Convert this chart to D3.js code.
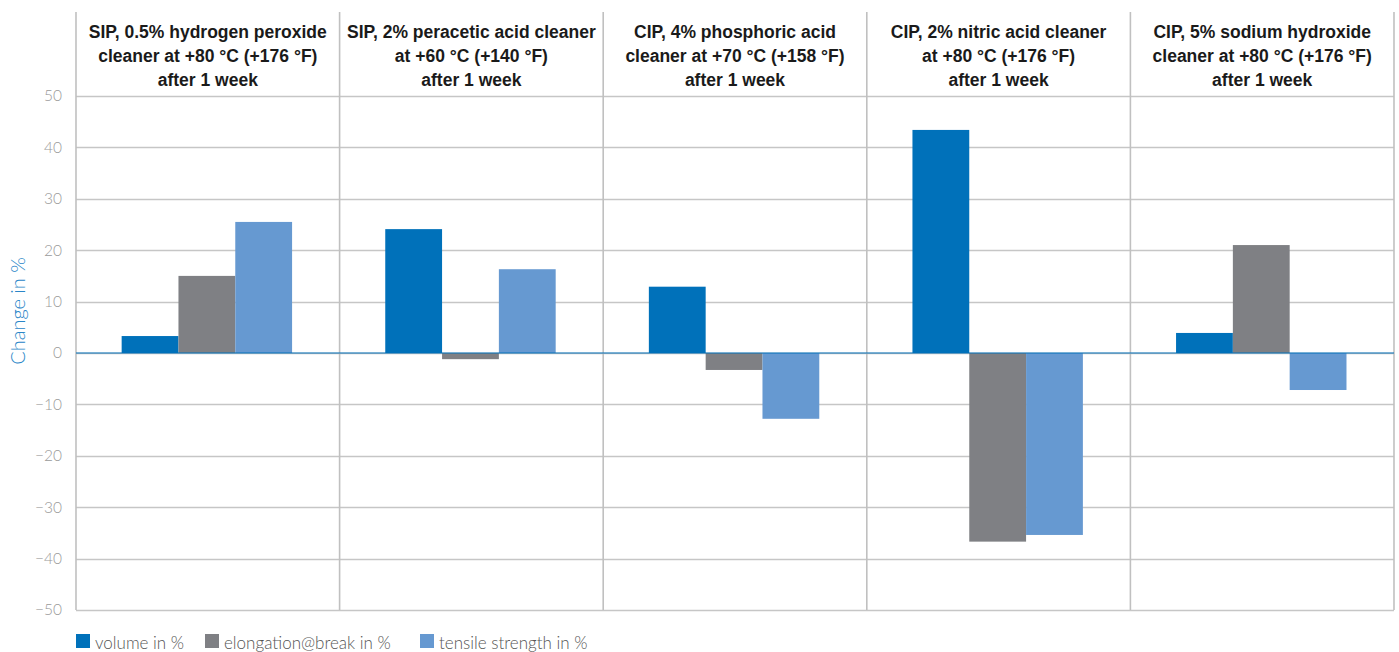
<!DOCTYPE html>
<html><head><meta charset="utf-8">
<script src="https://cdn.jsdelivr.net/npm/d3@7"></script>
<style>
body{margin:0;background:#fff;}
svg{display:block;}
</style></head>
<body>
<svg id="c" width="1399" height="652"></svg>
<script>
const categories = [
  ["SIP, 0.5% hydrogen peroxide","cleaner at +80 °C (+176 °F)","after 1 week"],
  ["SIP, 2% peracetic acid cleaner","at +60 °C (+140 °F)","after 1 week"],
  ["CIP, 4% phosphoric acid","cleaner at +70 °C (+158 °F)","after 1 week"],
  ["CIP, 2% nitric acid cleaner","at +80 °C (+176 °F)","after 1 week"],
  ["CIP, 5% sodium hydroxide","cleaner at +80 °C (+176 °F)","after 1 week"]
];
const seriesNames = ["volume in %","elongation@break in %","tensile strength in %"];
const volume = [3.3, 24.1, 12.9, 43.4, 3.9];
const elongation = [15.0, -1.2, -3.3, -36.7, 21.0];
const tensile = [25.5, 16.3, -12.8, -35.4, -7.2];
const yTicks = [50,40,30,20,10,0,-10,-20,-30,-40,-50];
const colors = ["#0071BA","#7F8084","#6699D1"];

(function(){
const seriesValues = [volume, elongation, tensile];
const svg = d3.select("#c");
const mL = 76, mR = 1394, mT = 96, mB = 610, headTop = 12;

const x = d3.scaleBand().domain(d3.range(categories.length)).range([mL, mR]);
const xi = d3.scaleBand().domain(d3.range(3)).range([0, x.bandwidth()])
  .paddingInner(0).paddingOuter(0.82).align(0.49);
const y = d3.scaleLinear().domain([-50, 50]).range([mB, mT]);

svg.append("g").selectAll("line").data(yTicks).join("line")
  .attr("x1", mL).attr("x2", mR)
  .attr("y1", d => Math.round(y(d))+0.5).attr("y2", d => Math.round(y(d))+0.5)
  .attr("stroke", "#c6c6c6").attr("stroke-width", 1.6);

svg.append("g").selectAll("line").data(d3.range(categories.length+1)).join("line")
  .attr("x1", d => d < categories.length ? x(d) : mR).attr("x2", d => d < categories.length ? x(d) : mR)
  .attr("y1", headTop).attr("y2", mB)
  .attr("stroke", "#c0c0c0").attr("stroke-width", 1.6);

const rows = [];
categories.forEach((c, i) => seriesValues.forEach((s, j) => rows.push({i, j, v: s[i]})));
svg.append("g").selectAll("rect").data(rows).join("rect")
  .attr("x", d => x(d.i) + xi(d.j))
  .attr("width", xi.bandwidth())
  .attr("y", d => y(Math.max(0, d.v)))
  .attr("height", d => Math.abs(y(d.v) - y(0)))
  .attr("fill", d => colors[d.j]);

svg.append("line").attr("x1", mL).attr("x2", mR)
  .attr("y1", y(0)).attr("y2", y(0)).attr("stroke", "#0071BA").attr("stroke-width", 1.2);

const yAxis = d3.axisLeft(y).tickValues(yTicks).tickSize(0).tickPadding(14)
  .tickFormat(d => d < 0 ? "\u2212" + Math.abs(d) : String(d));
const ya = svg.append("g").attr("transform", `translate(${mL},0)`).call(yAxis);
ya.select(".domain").remove();
ya.selectAll("text").attr("font-family", "Lato, 'Open Sans', sans-serif").attr("font-weight", 300)
  .attr("font-size", 15.5).attr("fill", "#9a9a9a");

svg.append("text").attr("transform", "translate(25,311) rotate(-90)")
  .attr("text-anchor", "middle").attr("font-family", "Lato, 'Open Sans', sans-serif").attr("font-weight", 300)
  .attr("font-size", 20).attr("fill", "#2a86c8").text("Change in %");

const hg = svg.append("g");
categories.forEach((lines, i) => {
  const t = hg.append("text").attr("text-anchor", "middle")
    .attr("font-family", "'Liberation Sans Narrow', 'Arial Narrow', sans-serif")
    .attr("font-weight", "bold").attr("font-size", 17.5).attr("fill", "#1a1a1a");
  lines.forEach((l, k) => t.append("tspan").attr("x", x(i) + x.bandwidth()/2).attr("y", 37.5 + k*24).text(l));
});

const legX = [76, 205, 420];
const lg = svg.append("g");
seriesNames.forEach((n, j) => {
  lg.append("rect").attr("x", legX[j]).attr("y", 634).attr("width", 14).attr("height", 14).attr("fill", colors[j]);
  lg.append("text").attr("x", legX[j] + 19).attr("y", 649)
    .attr("font-family", "Lato, 'Open Sans', sans-serif").attr("font-weight", 300)
    .attr("font-size", 17).attr("fill", "#555").text(n);
});
})();
</script>
</body></html>
